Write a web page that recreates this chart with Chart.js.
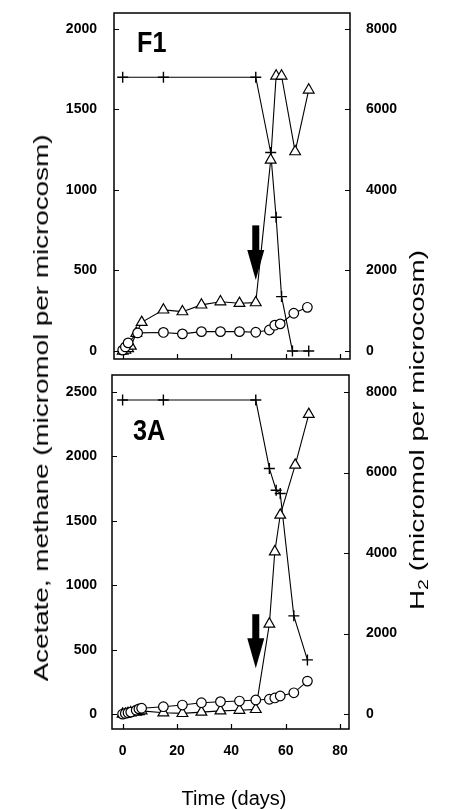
<!DOCTYPE html>
<html><head><meta charset="utf-8">
<script src="https://cdn.jsdelivr.net/npm/chart.js@4/dist/chart.umd.min.js"></script>
<style>
html,body{margin:0;padding:0;background:#fff;}
#wrap{position:relative;width:454px;height:810px;overflow:hidden;font-family:"Liberation Sans",Arial,sans-serif;}
#c1{position:absolute;left:0;top:0;}
#c2{position:absolute;left:0;top:367px;}
.lbl{position:absolute;white-space:nowrap;font-size:20px;color:#000;line-height:1;}
.lbl sub{font-size:14px;vertical-align:-4px;line-height:0;}
</style></head><body>
<div id="wrap">
<canvas id="c1" width="454" height="367" style="width:454px;height:367px"></canvas>
<canvas id="c2" width="454" height="443" style="width:454px;height:443px"></canvas>
<div class="lbl" style="left:41px;top:408px;transform:translate(-50%,-50%) rotate(-90deg) scaleX(1.39)">Acetate, methane (micromol per microcosm)</div>
<div class="lbl" style="left:417px;top:430px;transform:translate(-50%,-50%) rotate(-90deg) scaleX(1.39)">H<sub>2</sub> (micromol per microcosm)</div>
<div class="lbl" style="left:234px;top:798px;transform:translate(-50%,-50%)">Time (days)</div>
</div>
<script>
// ---------- DATA ----------
// x tick labels (days)
const dayTicks = [0, 20, 40, 60, 80];
// Panel F1
const f1LeftTicks = [0, 500, 1000, 1500, 2000];
const f1RightTicks = [0, 2000, 4000, 6000, 8000];
const f1AcetateDays = [0, 1, 2, 5.5, 15, 22, 29, 36, 43, 49, 54, 56, 58, 63, 68];
const f1Acetate     = [5, 25, 50, 112, 115, 106, 120, 120, 120, 116, 130, 160, 168, 234, 271];
const f1MethaneDays = [0, 1, 2, 3, 5, 7, 15, 22, 29, 36, 43, 49, 54.5, 56.5, 58.5, 63.5, 68.5];
const f1Methane     = [0, 5, 15, 30, 110, 178, 255, 244, 286, 306, 296, 300, 1186, 1708, 1708, 1238, 1621];
const f1H2Days = [0, 15, 49, 54.5, 56.5, 58.5, 62.5, 68.5];
const f1H2     = [6800, 6800, 6800, 4930, 3320, 1350, 0, 0];
// Panel 3A
const a3LeftTicks = [0, 500, 1000, 1500, 2000, 2500];
const a3RightTicks = [0, 2000, 4000, 6000, 8000];
const a3AcetateDays = [0, 1, 2, 3, 5, 6, 7, 15, 22, 29, 36, 43, 49, 54, 56, 58, 63, 68];
const a3Acetate     = [0, 5, 10, 15, 30, 40, 45, 57, 70, 88, 96, 101, 109, 115, 125, 140, 165, 256];
const a3MethaneDays = [0, 1, 2, 3, 5, 6, 7, 15, 22, 29, 36, 43, 49, 54, 56, 58, 63.5, 68.5];
const a3Methane     = [0, 0, 5, 10, 15, 20, 25, 10, 5, 15, 25, 30, 36, 699, 1260, 1545, 1933, 2327];
const a3H2Days = [0, 15, 49, 54, 56.5, 58, 63, 68];
const a3H2     = [7800, 7800, 7800, 6100, 5560, 5480, 2440, 1345];
// Arrows (day, from value, to value on left axis)
const arrowDays = [49, 49];
const arrowFrom = [780, 775];
const arrowTo   = [440, 355];
const panelNames = ['F1', '3A'];

// ---------- HELPERS ----------
const FONT = '"Liberation Sans", Arial, sans-serif';
const zip = (xs, ys) => xs.map((x, i) => ({x: x, y: ys[i]}));
const fixTicks = arr => s => { s.ticks = arr.map(v => ({value: v})); };

const panelPlugin = {
  id: 'panel',
  afterDraw(chart, args, o) {
    const {ctx, chartArea: a, scales} = chart;
    ctx.save();
    ctx.strokeStyle = '#000';
    ctx.fillStyle = '#000';
    ctx.lineWidth = 1.5;
    ctx.strokeRect(a.left, a.top, a.right - a.left, a.bottom - a.top);
    ctx.lineWidth = 1.2;
    ctx.beginPath();
    scales.x.ticks.forEach(t => {
      const p = Math.round(scales.x.getPixelForValue(t.value)) + 0.5;
      ctx.moveTo(p, a.bottom); ctx.lineTo(p, a.bottom - 5);
    });
    scales.y.ticks.forEach(t => {
      const p = Math.round(scales.y.getPixelForValue(t.value)) + 0.5;
      ctx.moveTo(a.left, p); ctx.lineTo(a.left + 5, p);
    });
    scales.y2.ticks.forEach(t => {
      const p = Math.round(scales.y2.getPixelForValue(t.value)) + 0.5;
      ctx.moveTo(a.right, p); ctx.lineTo(a.right - 5, p);
    });
    ctx.stroke();
    // arrow
    const ax = scales.x.getPixelForValue(o.arrowDay);
    const y0 = scales.y.getPixelForValue(o.arrowFrom);
    const y1 = scales.y.getPixelForValue(o.arrowTo);
    const head = 30;
    ctx.fillRect(ax - 3.5, y0, 7, (y1 - head) - y0 + 1);
    ctx.beginPath();
    ctx.moveTo(ax - 8.5, y1 - head);
    ctx.lineTo(ax + 8.5, y1 - head);
    ctx.lineTo(ax, y1);
    ctx.closePath();
    ctx.fill();
    // panel name
    ctx.font = 'bold 24px ' + FONT;
    ctx.textBaseline = 'middle';
    ctx.textAlign = 'left';
    ctx.translate(a.left + o.lx, a.top + o.ly);
    ctx.scale(1.05, 1.2);
    ctx.fillText(o.name, 0, 0);
    ctx.restore();
  }
};

function datasets(acD, ac, meD, me, hD, h) {
  const base = {borderColor: '#000', borderWidth: 1.1, pointBorderColor: '#000',
    pointBackgroundColor: '#fff', pointBorderWidth: 1.2, tension: 0, fill: false};
  return [
    Object.assign({}, base, {label: 'Acetate', data: zip(acD, ac), yAxisID: 'y', pointStyle: 'circle', pointRadius: 4.8}),
    Object.assign({}, base, {label: 'Methane', data: zip(meD, me), yAxisID: 'y', pointStyle: 'triangle', pointRadius: 6.2}),
    Object.assign({}, base, {label: 'H2', data: zip(hD, h), yAxisID: 'y2', pointStyle: 'cross', pointRadius: 5.5, pointBorderWidth: 1.4})
  ];
}

function makeOptions(p) {
  const tickFont = {family: FONT, size: 14, weight: 'bold'};
  const plain = v => String(v);
  return {
    responsive: false, animation: false, events: [],
    layout: {padding: {top: p.padTop, bottom: p.padBottom, left: 0, right: 0}},
    plugins: {legend: {display: false}, tooltip: {enabled: false},
      panel: {name: p.name, lx: p.lx, ly: p.ly, arrowDay: p.arrowDay, arrowFrom: p.arrowFrom, arrowTo: p.arrowTo}},
    scales: {
      x: {type: 'linear', position: 'bottom', min: p.xmin, max: p.xmax,
        afterBuildTicks: fixTicks(dayTicks),
        afterFit: s => { s.height = p.xHeight; s.paddingLeft = 0; s.paddingRight = 0; },
        grid: {display: false, drawTicks: false}, border: {display: false},
        ticks: {display: p.showX, color: '#000', font: tickFont, padding: 14, maxRotation: 0, callback: plain}},
      y: {type: 'linear', position: 'left', min: p.ymin, max: p.ymax,
        afterBuildTicks: fixTicks(p.leftTicks),
        afterFit: s => { s.width = p.leftW; s.paddingTop = 0; s.paddingBottom = 0; },
        grid: {display: false, drawTicks: false}, border: {display: false},
        ticks: {color: '#000', font: tickFont, padding: p.leftPad, callback: plain}},
      y2: {type: 'linear', position: 'right', min: p.y2min, max: p.y2max,
        afterBuildTicks: fixTicks(p.rightTicks),
        afterFit: s => { s.width = p.rightW; s.paddingTop = 0; s.paddingBottom = 0; },
        grid: {display: false, drawTicks: false}, border: {display: false},
        ticks: {color: '#000', font: tickFont, padding: p.rightPad, callback: plain}}
    }
  };
}

new Chart(document.getElementById('c1'), {
  type: 'line',
  data: {datasets: datasets(f1AcetateDays, f1Acetate, f1MethaneDays, f1Methane, f1H2Days, f1H2)},
  options: makeOptions({name: panelNames[0], lx: 23, ly: 31,
    arrowDay: arrowDays[0], arrowFrom: arrowFrom[0], arrowTo: arrowTo[0],
    padTop: 13, padBottom: 8, xHeight: 0, showX: false,
    xmin: -3.2, xmax: 83.7, ymin: -50, ymax: 2099, y2min: -200, y2max: 8396,
    leftTicks: f1LeftTicks, rightTicks: f1RightTicks,
    leftW: 114, rightW: 104, leftPad: 17, rightPad: 16}),
  plugins: [panelPlugin]
});

new Chart(document.getElementById('c2'), {
  type: 'line',
  data: {datasets: datasets(a3AcetateDays, a3Acetate, a3MethaneDays, a3Methane, a3H2Days, a3H2)},
  options: makeOptions({name: panelNames[1], lx: 21, ly: 57,
    arrowDay: arrowDays[1], arrowFrom: arrowFrom[1], arrowTo: arrowTo[1],
    padTop: 8, padBottom: 39, xHeight: 42, showX: true,
    xmin: -3.9, xmax: 83.3, ymin: -116, ymax: 2632, y2min: -371, y2max: 8422,
    leftTicks: a3LeftTicks, rightTicks: a3RightTicks,
    leftW: 112, rightW: 105, leftPad: 15, rightPad: 17}),
  plugins: [panelPlugin]
});
</script>
</body></html>
